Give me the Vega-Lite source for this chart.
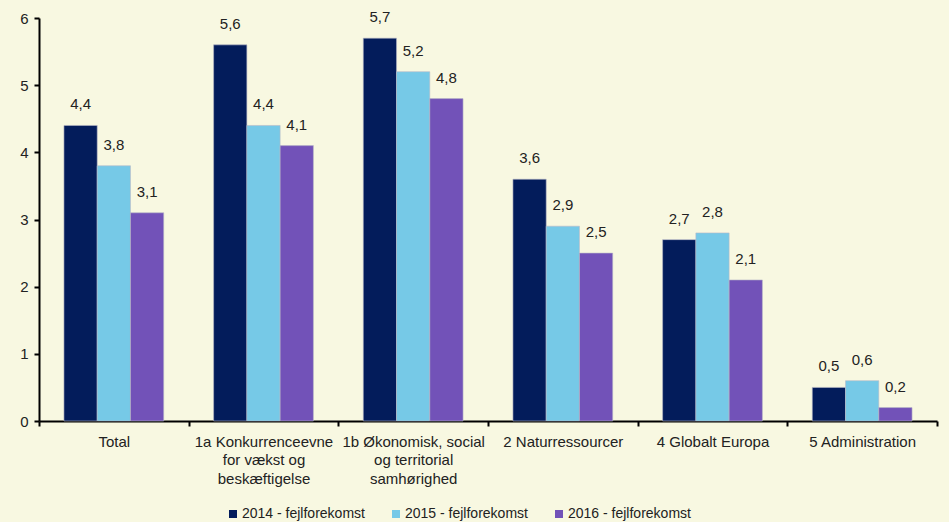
{
  "$schema": "https://vega.github.io/schema/vega-lite/v6.json",
  "width": 898,
  "height": 403,
  "autosize": {"type": "none"},
  "padding": {"left": 39, "top": 18, "right": 12, "bottom": 101},
  "background": "#F8F8E1",
  "config": {
    "view": {"stroke": null},
    "font": "Liberation Sans",
    "locale": {"number": {"decimal": ",", "thousands": ".", "grouping": [3], "currency": ["", " kr"]}}
  },
  "data": {
    "values": [
      {"cat": "Total", "serie": "2014 - fejlforekomst", "v": 4.4},
      {"cat": "Total", "serie": "2015 - fejlforekomst", "v": 3.8},
      {"cat": "Total", "serie": "2016 - fejlforekomst", "v": 3.1},
      {"cat": "1a Konkurrenceevne|for vækst og|beskæftigelse", "serie": "2014 - fejlforekomst", "v": 5.6},
      {"cat": "1a Konkurrenceevne|for vækst og|beskæftigelse", "serie": "2015 - fejlforekomst", "v": 4.4},
      {"cat": "1a Konkurrenceevne|for vækst og|beskæftigelse", "serie": "2016 - fejlforekomst", "v": 4.1},
      {"cat": "1b Økonomisk, social|og territorial|samhørighed", "serie": "2014 - fejlforekomst", "v": 5.7},
      {"cat": "1b Økonomisk, social|og territorial|samhørighed", "serie": "2015 - fejlforekomst", "v": 5.2},
      {"cat": "1b Økonomisk, social|og territorial|samhørighed", "serie": "2016 - fejlforekomst", "v": 4.8},
      {"cat": "2 Naturressourcer", "serie": "2014 - fejlforekomst", "v": 3.6},
      {"cat": "2 Naturressourcer", "serie": "2015 - fejlforekomst", "v": 2.9},
      {"cat": "2 Naturressourcer", "serie": "2016 - fejlforekomst", "v": 2.5},
      {"cat": "4 Globalt Europa", "serie": "2014 - fejlforekomst", "v": 2.7},
      {"cat": "4 Globalt Europa", "serie": "2015 - fejlforekomst", "v": 2.8},
      {"cat": "4 Globalt Europa", "serie": "2016 - fejlforekomst", "v": 2.1},
      {"cat": "5 Administration", "serie": "2014 - fejlforekomst", "v": 0.5},
      {"cat": "5 Administration", "serie": "2015 - fejlforekomst", "v": 0.6},
      {"cat": "5 Administration", "serie": "2016 - fejlforekomst", "v": 0.2}
    ]
  },
  "encoding": {
    "x": {
      "field": "cat", "type": "nominal", "sort": null,
      "scale": {"paddingInner": 0, "paddingOuter": 0},
      "axis": {
        "title": null, "labelAngle": 0, "domainColor": "#000", "domainWidth": 2,
        "tickColor": "#000", "tickWidth": 2, "tickSize": 5, "tickBand": "extent",
        "labelFontSize": 15, "labelColor": "#222", "labelPadding": 8,
        "labelExpr": "split(datum.label, '|')", "labelLineHeight": 18.5,
        "labelBaseline": "top"
      }
    },
    "xOffset": {"field": "serie", "type": "nominal", "scale": {"paddingInner": 0, "paddingOuter": 0.75}},
    "y": {
      "field": "v", "type": "quantitative",
      "scale": {"domain": [0, 6]},
      "axis": {
        "title": null, "grid": false, "tickCount": 6, "domainColor": "#000", "domainWidth": 2,
        "tickColor": "#000", "tickWidth": 2, "tickSize": 5,
        "labelFontSize": 15, "labelColor": "#222", "labelPadding": 6
      }
    }
  },
  "layer": [
    {
      "mark": {"type": "bar", "stroke": "#b8b8c8", "strokeWidth": 0.6},
      "encoding": {
        "color": {
          "field": "serie", "type": "nominal",
          "scale": {"domain": ["2014 - fejlforekomst", "2015 - fejlforekomst", "2016 - fejlforekomst"], "range": ["#031C5B", "#76C9E7", "#7252B8"]},
          "legend": {
            "title": null, "orient": "none", "direction": "horizontal",
            "legendX": 187, "legendY": 489,
            "symbolType": "square", "symbolSize": 64, "symbolStrokeWidth": 0,
            "labelFontSize": 14, "labelColor": "#222", "labelOffset": 2,
            "columnPadding": 24
          }
        }
      }
    },
    {
      "mark": {"type": "text", "dy": -21, "fontSize": 15, "color": "#222", "baseline": "middle"},
      "encoding": {
        "text": {"field": "v", "type": "quantitative", "format": ".1f"}
      }
    }
  ]
}
